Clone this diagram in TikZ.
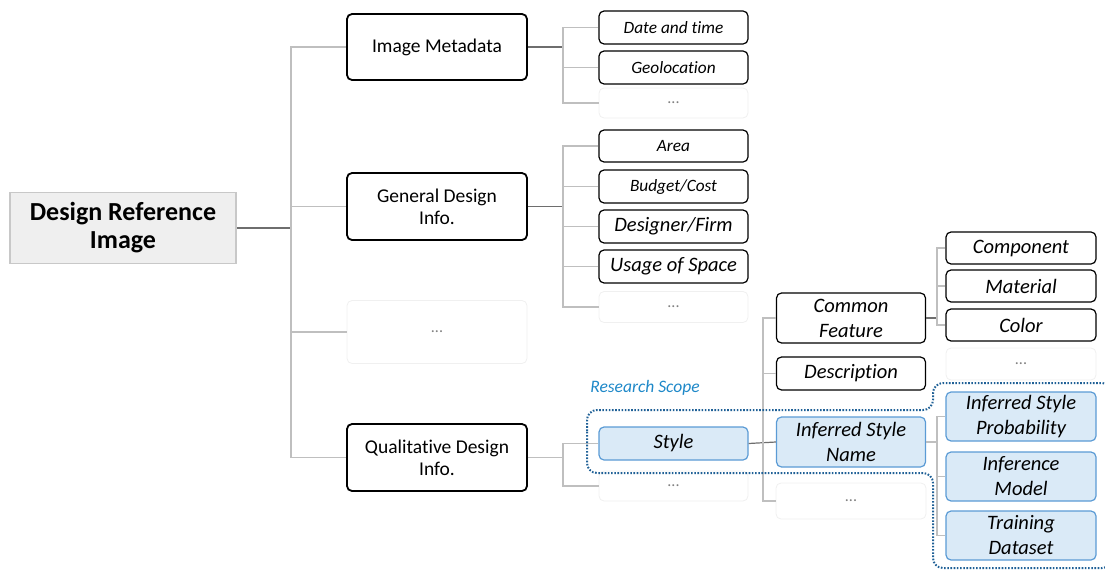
\documentclass[tikz,border=0pt]{standalone}
\usepackage{fontspec}
\setmainfont{Carlito}[Ligatures=CommonOff]
\definecolor{rootfill}{RGB}{239,239,239}
\definecolor{rootdraw}{RGB}{200,200,200}
\definecolor{bluefill}{RGB}{218,234,247}
\definecolor{bluedraw}{RGB}{91,155,213}
\definecolor{scopeblue}{RGB}{31,96,150}
\definecolor{labelblue}{RGB}{30,136,200}
\definecolor{lightline}{RGB}{191,191,191}
\definecolor{darkline}{RGB}{110,110,110}
\definecolor{faint}{RGB}{240,240,240}
\begin{document}
\begin{tikzpicture}[x=1pt,y=-1pt,
  box/.style={draw=black, line width=1.2pt, rounded corners=5pt, fill=white, align=center, inner sep=0pt},
  lone/.style={box, line width=1.8pt, minimum width=180pt, minimum height=66pt, font=\fontsize{19.5}{22}\selectfont},
  leafA/.style={box, minimum width=149pt, minimum height=33pt, font=\itshape\fontsize{17.3}{20}\selectfont},
  leafB/.style={box, minimum width=149pt, minimum height=33pt, font=\itshape\fontsize{20.5}{25}\selectfont},
  tall/.style={leafB, minimum height=50pt},
  bluebox/.style={fill=bluefill, draw=bluedraw},
  dots/.style={draw=faint, line width=0.8pt, rounded corners=5pt, fill=white, inner sep=0pt, text=gray, font=\fontsize{16}{18}\selectfont},
  tl/.style={draw=lightline, line width=1.2pt},
  dl/.style={draw=darkline, line width=1.2pt},
]
\useasboundingbox (0,0) rectangle (1105,570);
\clip (0,0) rectangle (1105,570);

% root
\node[draw=rootdraw, fill=rootfill, line width=1.5pt, minimum width=226pt, minimum height=71pt, align=center, inner sep=0pt,
  font=\bfseries\fontsize{26}{28}\selectfont] (root) at (123,228) {Design Reference\\Image};

% level 1
\node[lone] (im) at (437,47) {Image Metadata};
\node[lone, minimum height=67pt] (gd) at (437,206.5) {General Design\\Info.};
\node[dots, minimum width=180pt, minimum height=63pt] (d1) at (437,332) {...};
\node[lone, minimum height=67pt] (qd) at (437,457.5) {Qualitative Design\\Info.};

% image metadata children
\node[leafA] (date) at (673.5,27.5) {Date and time};
\node[leafA] (geo) at (673.5,67.5) {Geolocation};
\node[dots, minimum width=149pt, minimum height=30pt] (dd1) at (673.5,103) {...};

% general design children
\node[leafA, minimum height=32pt] (area) at (673.5,146) {Area};
\node[leafA] (budget) at (673.5,186.5) {Budget/Cost};
\node[leafB] (designer) at (673.5,226.5) {Designer/Firm};
\node[leafB] (usage) at (673.5,266.5) {Usage of Space};
\node[dots, minimum width=149pt, minimum height=31pt] (dd2) at (673.5,307) {...};

% qualitative children
\node[leafB, bluebox] (style) at (673.5,443.5) {Style};
\node[dots, minimum width=149pt, minimum height=30pt] (dd3) at (673.5,486) {...};

% style children
\node[tall] (cf) at (851,318) {Common\\Feature};
\node[leafB] (desc) at (851,373.5) {Description};
\node[tall, bluebox] (isn) at (851,442) {Inferred Style\\Name};
\node[dots, minimum width=150pt, minimum height=36pt] (dd4) at (851,501) {...};

% common feature children
\node[leafB, minimum width=150pt, minimum height=32pt] (comp) at (1021,248) {Component};
\node[leafB, minimum width=150pt, minimum height=32pt] (mat) at (1021,286) {Material};
\node[leafB, minimum width=150pt, minimum height=32pt] (color) at (1021,325) {Color};
\node[dots, minimum width=150pt, minimum height=32pt] (dd5) at (1021,364) {...};

% inferred style name children
\node[tall, bluebox, minimum width=150pt, minimum height=49pt] (isp) at (1021,416.5) {Inferred Style\\Probability};
\node[tall, bluebox, minimum width=150pt, minimum height=49pt] (infm) at (1021,476.5) {Inference\\Model};
\node[tall, bluebox, minimum width=150pt, minimum height=49pt] (td) at (1021,535.5) {Training\\Dataset};

% connectors: root
\coordinate (t0) at (291,228);
\draw[dl] (root.east) -- (t0);
\draw[tl] (t0) |- (im.west);
\draw[tl] (t0) |- (qd.west);
\draw[tl] (t0 |- gd.west) -- (gd.west);
\draw[tl] (t0 |- d1.west) -- (d1.west);

% image metadata
\coordinate (t1) at (563,47);
\draw[dl] (im.east) -- (t1);
\draw[tl] (t1) |- (date.west);
\draw[tl] (t1) |- (dd1.west);
\draw[tl] (t1 |- geo.west) -- (geo.west);

% general design
\coordinate (t2) at (563,206.5);
\draw[dl] (gd.east) -- (t2);
\draw[tl] (t2) |- (area.west);
\draw[tl] (t2) |- (dd2.west);
\draw[tl] (t2 |- budget.west) -- (budget.west);
\draw[tl] (t2 |- designer.west) -- (designer.west);
\draw[tl] (t2 |- usage.west) -- (usage.west);

% qualitative
\coordinate (t3) at (563,457.5);
\draw[tl] (qd.east) -- (t3);
\draw[tl] (t3) |- (style.west);
\draw[tl] (t3) |- (dd3.west);

% style
\coordinate (t4) at (763,443.5);
\draw[dl] (style.east) -- (isn.west);
\draw[tl] (t4) |- (cf.west);
\draw[tl] (t4) |- (dd4.west);
\draw[tl] (t4 |- desc.west) -- (desc.west);

% common feature
\coordinate (t5) at (937,318);
\draw[dl] (cf.east) -- (t5);
\draw[tl] (t5) |- (comp.west);
\draw[tl] (t5) |- (color.west);
\draw[tl] (t5 |- mat.west) -- (mat.west);

% inferred style name
\coordinate (t6) at (937,442);
\draw[tl] (isn.east) -- (t6);
\draw[tl] (t6) |- (isp.west);
\draw[tl] (t6) |- (td.west);
\draw[tl] (t6 |- infm.west) -- (infm.west);

% research scope
\node[text=labelblue, font=\itshape\fontsize{17.5}{20}\selectfont] (rs) at (645,388) {Research Scope};
\draw[scopeblue, line width=2pt, dash pattern=on 1.6pt off 1.6pt, rounded corners=10pt]
  (587,441) -- (587,410) -- (933,410) -- (933,383) -- (1112,383) -- (1112,568) -- (933,568) -- (933,473) -- (587,473) -- cycle;
\end{tikzpicture}
\end{document}
